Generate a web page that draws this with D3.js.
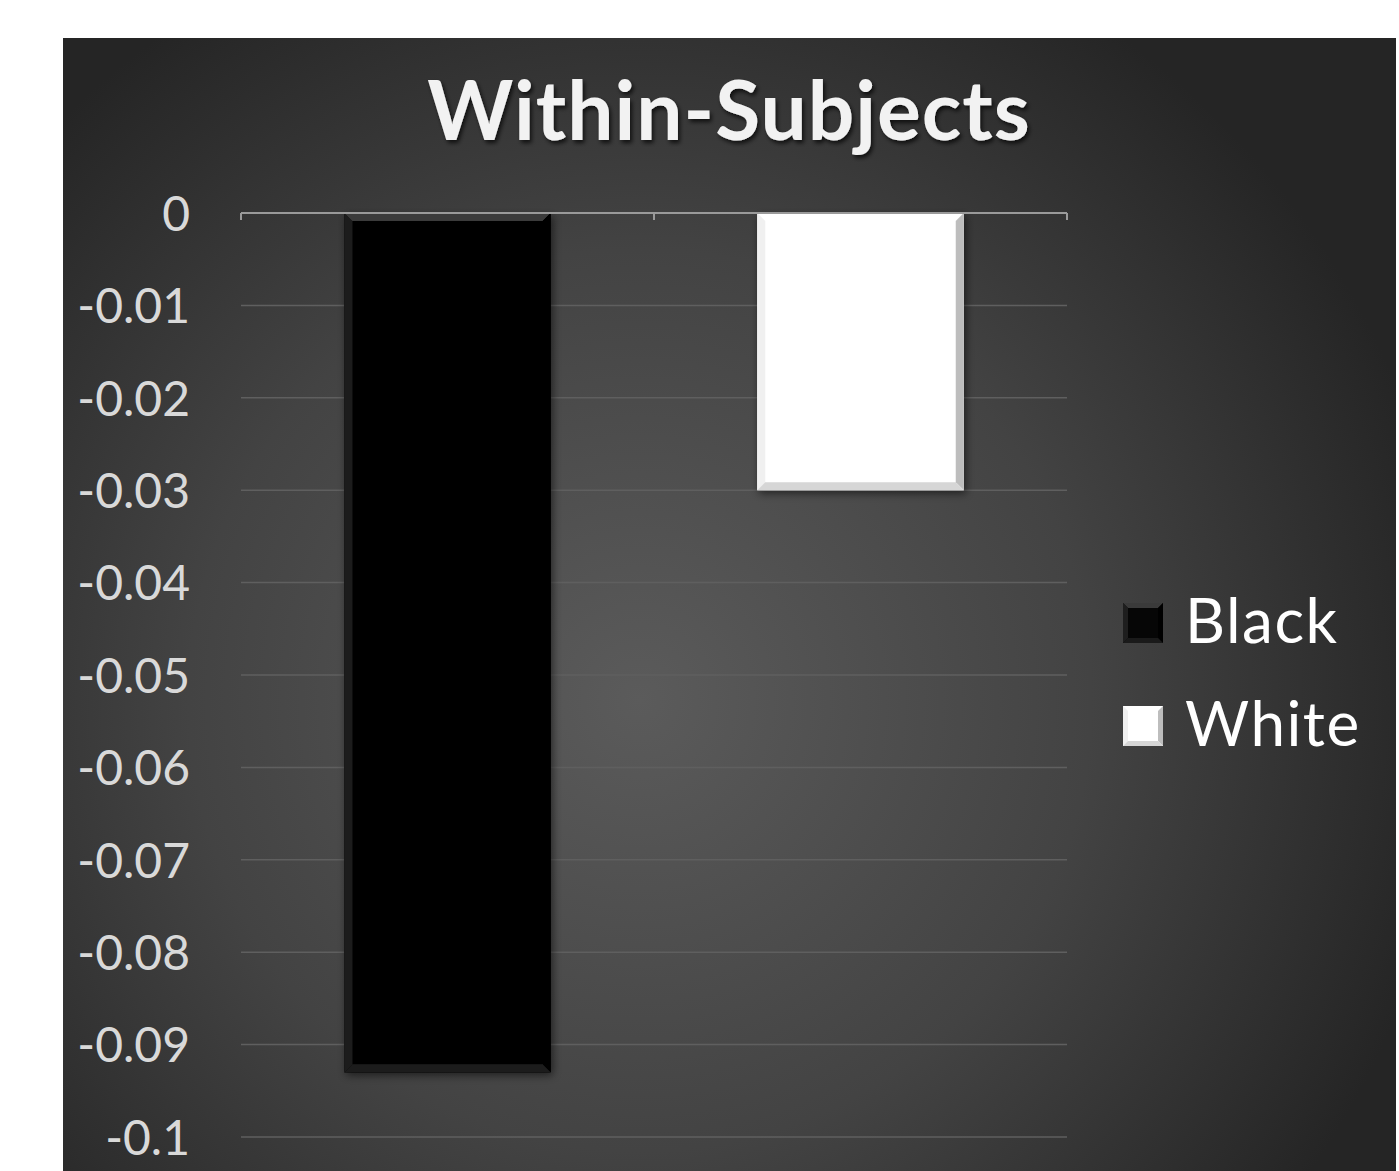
<!DOCTYPE html>
<html>
<head>
<meta charset="utf-8">
<script src="https://cdn.jsdelivr.net/npm/d3@7"></script>
<style>
  html, body { margin: 0; padding: 0; background: #ffffff; }
  svg { display: block; }
</style>
</head>
<body>
<svg id="chart" width="1399" height="1171"></svg>
<script>
// Chart data
const categories = ["Black", "White"];
const values = [-0.093, -0.030];
const yTicks = [0, -0.01, -0.02, -0.03, -0.04, -0.05, -0.06, -0.07, -0.08, -0.09, -0.1];
const tickLabels = ["0", "-0.01", "-0.02", "-0.03", "-0.04", "-0.05", "-0.06", "-0.07", "-0.08", "-0.09", "-0.1"];
const titleText = "Within-Subjects";

const svg = d3.select("#chart");
const defs = svg.append("defs");

// Panel background: soft radial glow
const rg = defs.append("radialGradient").attr("id", "bgGrad")
  .attr("gradientUnits", "userSpaceOnUse")
  .attr("cx", 640).attr("cy", 700).attr("r", 820);
rg.append("stop").attr("offset", "0%").attr("stop-color", "#5b5b5b");
rg.append("stop").attr("offset", "55%").attr("stop-color", "#434343");
rg.append("stop").attr("offset", "100%").attr("stop-color", "#252525");

const shadow = defs.append("filter").attr("id", "barShadow")
  .attr("x", "-20%").attr("y", "-20%").attr("width", "140%").attr("height", "140%");
shadow.append("feDropShadow").attr("dx", 2).attr("dy", 3).attr("stdDeviation", 4)
  .attr("flood-color", "#000").attr("flood-opacity", 0.55);

const tshadow = defs.append("filter").attr("id", "textShadow")
  .attr("x", "-10%").attr("y", "-20%").attr("width", "120%").attr("height", "150%");
tshadow.append("feDropShadow").attr("dx", 2).attr("dy", 3).attr("stdDeviation", 2)
  .attr("flood-color", "#000").attr("flood-opacity", 0.7);

svg.append("rect").attr("x", 63).attr("y", 38).attr("width", 1333).attr("height", 1133)
  .attr("fill", "url(#bgGrad)");

// Plot area
const plot = { left: 241, right: 1067, top: 213, bottom: 1137 };

const y = d3.scaleLinear().domain([0, -0.1]).range([plot.top, plot.bottom]);
const x = d3.scaleBand().domain(categories).range([plot.left, plot.right])
  .paddingInner(0.5).paddingOuter(0.25);

// Gridlines
svg.append("g").selectAll("line").data(yTicks.slice(1)).join("line")
  .attr("x1", plot.left).attr("x2", plot.right)
  .attr("y1", d => y(d)).attr("y2", d => y(d))
  .attr("stroke", "#5f5f5f").attr("stroke-width", 1.5);

// Y-axis labels
const yAxis = d3.axisLeft(y).tickValues(yTicks)
  .tickFormat((d, i) => tickLabels[i]).tickSize(0).tickPadding(51);
const yg = svg.append("g").attr("transform", `translate(${plot.left},0)`).call(yAxis);
yg.select(".domain").remove();
yg.selectAll("text")
  .attr("fill", "#d9d9d9")
  .attr("font-family", "Lato, 'Open Sans', sans-serif")
  .attr("font-size", 48)
  .attr("dy", "0.36em");

// Bars with bevelled edges
const bev = 8;
const styles = {
  Black: { face: "#060606", top: "#3a3a3a", left: "#1e1e1e", right: "#000000", bottom: "#1a1a1a" },
  White: { face: "#ffffff", top: "#ffffff", left: "#f0f0f0", right: "#bdbdbd", bottom: "#d6d6d6" }
};

categories.forEach((c, i) => {
  const x0 = x(c), x1 = x(c) + x.bandwidth();
  const y0 = y(0), y1 = y(values[i]);
  const s = styles[c];
  const g = svg.append("g").attr("filter", "url(#barShadow)");
  g.append("rect").attr("x", x0).attr("y", y0).attr("width", x1 - x0).attr("height", y1 - y0)
    .attr("fill", s.face);
  const pts = [
    { p: [[x0, y0], [x1, y0], [x1 - bev, y0 + bev], [x0 + bev, y0 + bev]], f: s.top },
    { p: [[x0, y0], [x0 + bev, y0 + bev], [x0 + bev, y1 - bev], [x0, y1]], f: s.left },
    { p: [[x1, y0], [x1, y1], [x1 - bev, y1 - bev], [x1 - bev, y0 + bev]], f: s.right },
    { p: [[x0, y1], [x1, y1], [x1 - bev, y1 - bev], [x0 + bev, y1 - bev]], f: s.bottom }
  ];
  pts.forEach(t => g.append("polygon").attr("points", t.p.map(q => q.join(",")).join(" "))
    .attr("fill", t.f));
});

// Category axis line with ticks
const axisY = y(0);
const xTickPos = [plot.left, (plot.left + plot.right) / 2, plot.right];
svg.append("line").attr("x1", plot.left).attr("x2", plot.right)
  .attr("y1", axisY).attr("y2", axisY).attr("stroke", "#9a9a9a").attr("stroke-width", 2);
svg.append("g").selectAll("line").data(xTickPos).join("line")
  .attr("x1", d => d).attr("x2", d => d)
  .attr("y1", axisY).attr("y2", axisY + 7)
  .attr("stroke", "#9a9a9a").attr("stroke-width", 2);

// Title
svg.append("text").attr("x", 729).attr("y", 140)
  .attr("text-anchor", "middle")
  .attr("font-family", "Lato, 'Open Sans', sans-serif")
  .attr("font-weight", "bold")
  .attr("font-size", 82)
  .attr("letter-spacing", 1)
  .attr("fill", "#f2f2f2")
  .attr("filter", "url(#textShadow)")
  .text(titleText);

// Legend
const legendY = [623, 726];
categories.forEach((c, i) => {
  const s = styles[c];
  const cy = legendY[i];
  const lx0 = 1123, lx1 = 1163, ly0 = cy - 20, ly1 = cy + 20, b = 5;
  const g = svg.append("g");
  g.append("rect").attr("x", lx0).attr("y", ly0).attr("width", 40).attr("height", 40).attr("fill", s.face);
  [
    { p: [[lx0, ly0], [lx1, ly0], [lx1 - b, ly0 + b], [lx0 + b, ly0 + b]], f: s.top },
    { p: [[lx0, ly0], [lx0 + b, ly0 + b], [lx0 + b, ly1 - b], [lx0, ly1]], f: s.left },
    { p: [[lx1, ly0], [lx1, ly1], [lx1 - b, ly1 - b], [lx1 - b, ly0 + b]], f: s.right },
    { p: [[lx0, ly1], [lx1, ly1], [lx1 - b, ly1 - b], [lx0 + b, ly1 - b]], f: s.bottom }
  ].forEach(t => g.append("polygon").attr("points", t.p.map(q => q.join(",")).join(" ")).attr("fill", t.f));
  svg.append("text").attr("x", 1185).attr("y", cy + 20)
    .attr("font-family", "Lato, 'Open Sans', sans-serif")
    .attr("font-size", 62)
    .attr("letter-spacing", 1.5)
    .attr("fill", "#ffffff")
    .text(c);
});
</script>
</body>
</html>
